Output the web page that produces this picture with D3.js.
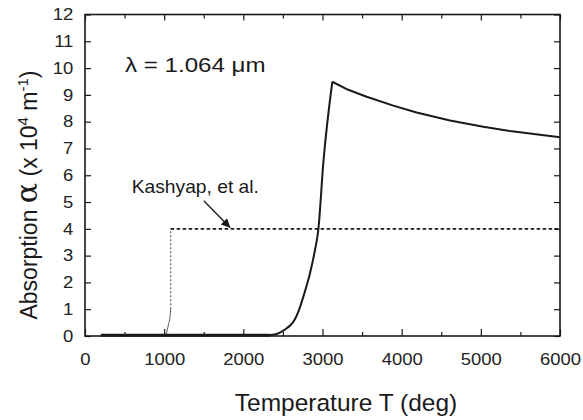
<!DOCTYPE html>
<html>
<head>
<meta charset="utf-8">
<script src="https://cdn.jsdelivr.net/npm/d3@7"></script>
<style>
  html, body { margin: 0; padding: 0; background: #fff; }
  svg { display: block; font-family: "Liberation Sans", Arial, Helvetica, sans-serif; }
</style>
</head>
<body>
<svg id="chart" width="583" height="420"></svg>
<script>
// Absorption coefficient vs temperature at 1.064 µm
const xTicks = [0, 1000, 2000, 3000, 4000, 5000, 6000];
const xMinorTicks = [500, 1500, 2500, 3500, 4500, 5500];
const yTicks = [0, 1, 2, 3, 4, 5, 6, 7, 8, 9, 10, 11, 12];

// model curve: flat baseline, steep rise, then slow decay
const baseTemp  = [200, 2330];
const baseAlpha = [0.03, 0.03];
const riseTemp  = [2300, 2421, 2500, 2548, 2600, 2650, 2700, 2758, 2842, 2905, 2947, 3010, 3124];
const riseAlpha = [0.03, 0.075, 0.19, 0.29, 0.42, 0.62, 0.95, 1.47, 2.34, 3.21, 3.96, 6.45, 9.49];
const decayTemp  = [3124, 3300, 3558, 3894, 4189, 4610, 5031, 5368, 6000];
const decayAlpha = [9.49, 9.22, 8.93, 8.60, 8.34, 8.04, 7.81, 7.65, 7.42];

// Kashyap et al. step model
const kashFootTemp  = [1000, 1030, 1053, 1074, 1082];
const kashFootAlpha = [0.0, 0.12, 0.41, 0.72, 1.0];
const kashStepTemp  = [1082, 1082];
const kashStepAlpha = [1.0, 4.0];
const kashFlatTemp  = [1082, 6000];
const kashFlatAlpha = [4.0, 4.0];

// annotations (data coordinates)
const kashLabel = { text: "Kashyap, et al.", t: 590, a: 5.33 };
const arrowFrom = [1500, 5.05];
const arrowTo   = [1835, 4.04];
const lambdaLabel = { t: 505, a: 9.87 };

const svg = d3.select("#chart");
const plotL = 85, plotR = 560, plotT = 14.5, plotB = 336;
const wide = 1.12;   // horizontal stretch of the label lettering

const x = d3.scaleLinear().domain([0, 6000]).range([plotL, plotR]);
const y = d3.scaleLinear().domain([0, 12]).range([plotB, plotT]);

const ink = "#1a1a1a";

// ticks (inward) via axes
const g = svg.append("g");
g.append("g").attr("transform", `translate(0,${plotB})`)
  .call(d3.axisBottom(x).tickValues(xTicks).tickSize(-7).tickFormat(d3.format("d")).tickPadding(17));
g.append("g").attr("transform", `translate(0,${plotB})`)
  .call(d3.axisBottom(x).tickValues(xMinorTicks).tickSize(-4).tickFormat(""));
g.append("g").attr("transform", `translate(0,${plotT})`)
  .call(d3.axisTop(x).tickValues(xTicks).tickSize(-6).tickFormat(""));
g.append("g").attr("transform", `translate(0,${plotT})`)
  .call(d3.axisTop(x).tickValues(xMinorTicks).tickSize(-4).tickFormat(""));
g.append("g").attr("transform", `translate(${plotL},0)`)
  .call(d3.axisLeft(y).tickValues(yTicks).tickSize(-6).tickFormat(d3.format("d")).tickPadding(10.4));
g.append("g").attr("transform", `translate(${plotR},0)`)
  .call(d3.axisRight(y).tickValues(yTicks).tickSize(-6).tickFormat(""));

g.selectAll(".domain").remove();
g.selectAll(".tick line").attr("stroke", ink).attr("stroke-width", 1.2);
g.selectAll(".tick text").attr("fill", "#222").attr("font-size", 16.5)
  .attr("font-family", "Liberation Sans, Arial, sans-serif")
  .attr("transform", `scale(${wide},1)`);

// frame
svg.append("rect")
  .attr("x", plotL).attr("y", plotT)
  .attr("width", plotR - plotL).attr("height", plotB - plotT)
  .attr("fill", "none").attr("stroke", ink).attr("stroke-width", 1.6);

const line = (ts, as, curve) => d3.line()
  .x(i => x(ts[i])).y(i => y(as[i]))
  .curve(curve || d3.curveLinear)(d3.range(ts.length));

// Kashyap step
svg.append("path").attr("d", line(kashFootTemp, kashFootAlpha, d3.curveMonotoneX))
  .attr("fill", "none").attr("stroke", "#555").attr("stroke-width", 1);
svg.append("path").attr("d", line(kashStepTemp, kashStepAlpha))
  .attr("fill", "none").attr("stroke", "#666").attr("stroke-width", 1.2)
  .attr("stroke-dasharray", "2,2");
svg.append("path").attr("d", line(kashFlatTemp, kashFlatAlpha))
  .attr("fill", "none").attr("stroke", ink).attr("stroke-width", 1.6)
  .attr("stroke-dasharray", "3.5,2.5");

// model curve
svg.append("path").attr("d", line(baseTemp, baseAlpha))
  .attr("fill", "none").attr("stroke", ink).attr("stroke-width", 3);
svg.append("path").attr("d", line(riseTemp, riseAlpha, d3.curveMonotoneX))
  .attr("fill", "none").attr("stroke", ink).attr("stroke-width", 2)
  .attr("stroke-linejoin", "miter");
svg.append("path").attr("d", line(decayTemp, decayAlpha))
  .attr("fill", "none").attr("stroke", ink).attr("stroke-width", 2)
  .attr("stroke-linejoin", "round");

// arrow
svg.append("defs").append("marker")
  .attr("id", "head").attr("viewBox", "0 0 10 10")
  .attr("refX", 10).attr("refY", 5)
  .attr("markerWidth", 12).attr("markerHeight", 9)
  .attr("markerUnits", "userSpaceOnUse")
  .attr("orient", "auto")
  .append("path").attr("d", "M0,0 L10,5 L0,10 Z").attr("fill", ink);
svg.append("line")
  .attr("x1", x(arrowFrom[0])).attr("y1", y(arrowFrom[1]))
  .attr("x2", x(arrowTo[0])).attr("y2", y(arrowTo[1]))
  .attr("stroke", ink).attr("stroke-width", 1.3)
  .attr("marker-end", "url(#head)");

// stretched text helper: anchor at (px, py), widened horizontally
function wideText(px, py, size, str, stretch) {
  return svg.append("text")
    .attr("transform", `translate(${px},${py}) scale(${stretch},1)`)
    .attr("font-size", size).attr("fill", ink)
    .text(str);
}

wideText(x(kashLabel.t), y(kashLabel.a), 17.5, kashLabel.text, 1.1);

// wavelength label
wideText(x(lambdaLabel.t), y(lambdaLabel.a), 21, "λ = 1.064 μm", 1.15);

// axis titles
svg.append("text")
  .attr("x", 346).attr("y", 411)
  .attr("text-anchor", "middle")
  .attr("font-size", 24.5).attr("fill", ink)
  .text("Temperature T (deg)");

const yt = svg.append("text")
  .attr("transform", "translate(37,195) rotate(-90)")
  .attr("text-anchor", "middle")
  .attr("font-size", 23).attr("fill", ink);
yt.append("tspan").text("Absorption  ");
yt.append("tspan").attr("font-family", "DejaVu Serif, serif").attr("font-size", 30).text("α");
yt.append("tspan").text("  (x 10");
yt.append("tspan").attr("font-size", 15).attr("dy", -9).text("4");
yt.append("tspan").attr("dy", 9).text(" m");
yt.append("tspan").attr("font-size", 15).attr("dy", -9).text("-1");
yt.append("tspan").attr("dy", 9).text(")");
</script>
</body>
</html>
